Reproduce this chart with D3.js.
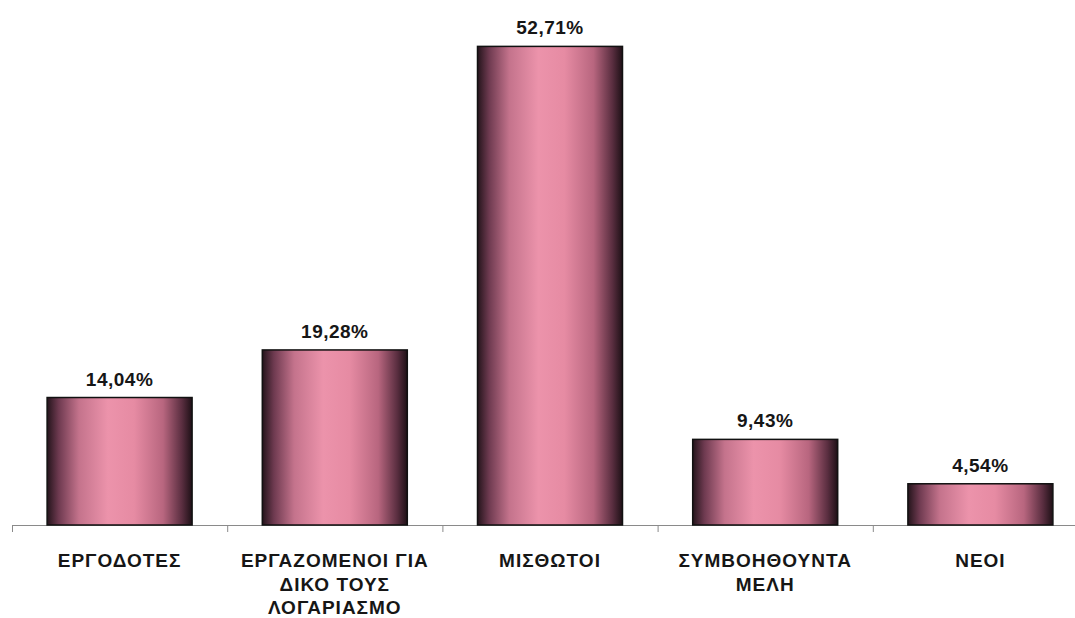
<!DOCTYPE html>
<html>
<head>
<meta charset="utf-8">
<script src="https://cdn.jsdelivr.net/npm/d3@7"></script>
<style>
  body { margin: 0; background: #fff; }
  text { font-family: "Liberation Sans", Arial, sans-serif; font-weight: bold; fill: #161616; }
</style>
</head>
<body>
<div id="chart"></div>
<script>
var categories = [
  ["ΕΡΓΟΔΟΤΕΣ"],
  ["ΕΡΓΑΖΟΜΕΝΟΙ ΓΙΑ", "ΔΙΚΟ ΤΟΥΣ", "ΛΟΓΑΡΙΑΣΜΟ"],
  ["ΜΙΣΘΩΤΟΙ"],
  ["ΣΥΜΒΟΗΘΟΥΝΤΑ", "ΜΕΛΗ"],
  ["ΝΕΟΙ"]
];
var values = [14.04, 19.28, 52.71, 9.43, 4.54];
var valueLabels = ["14,04%", "19,28%", "52,71%", "9,43%", "4,54%"];

var width = 1075, height = 618,
    left = 12, baseY = 525;

var svg = d3.select("#chart").append("svg")
  .attr("width", width)
  .attr("height", height);

var defs = svg.append("defs");
var grad = defs.append("linearGradient")
  .attr("id", "cyl")
  .attr("x1", "0%").attr("x2", "100%")
  .attr("y1", "0%").attr("y2", "0%");
[[0, "#24141b"], [0.08, "#6e3a50"], [0.22, "#c4738c"], [0.42, "#ec93ab"],
 [0.6, "#e68ba3"], [0.8, "#b8667f"], [0.93, "#5a2e40"], [1, "#1e1016"]]
  .forEach(function (s) {
    grad.append("stop").attr("offset", s[0]).attr("stop-color", s[1]);
  });

var x = d3.scaleBand()
  .domain(d3.range(values.length))
  .range([left, left + 5 * 215.2])
  .paddingInner(0)
  .paddingOuter(0);

var y = d3.scaleLinear()
  .domain([0, 55])
  .range([baseY, baseY - 55 * 9.08]);

var barW = 145;

// axis line + ticks
svg.append("line")
  .attr("x1", left).attr("x2", width)
  .attr("y1", baseY + 0.5).attr("y2", baseY + 0.5)
  .attr("stroke", "#8a8a8a").attr("stroke-width", 1);

svg.selectAll("line.tick")
  .data(d3.range(values.length))
  .enter().append("line")
  .attr("class", "tick")
  .attr("x1", function (d) { return x(d) + 0.5; })
  .attr("x2", function (d) { return x(d) + 0.5; })
  .attr("y1", baseY).attr("y2", baseY + 7)
  .attr("stroke", "#8a8a8a");

// bars
svg.selectAll("rect.bar")
  .data(values)
  .enter().append("rect")
  .attr("class", "bar")
  .attr("x", function (d, i) { return x(i) + x.bandwidth() / 2 - barW / 2; })
  .attr("width", barW)
  .attr("y", function (d) { return y(d); })
  .attr("height", function (d) { return baseY - y(d); })
  .attr("fill", "url(#cyl)")
  .attr("stroke", "#111")
  .attr("stroke-width", 1.5);

// value labels
svg.selectAll("text.val")
  .data(values)
  .enter().append("text")
  .attr("class", "val")
  .attr("text-anchor", "middle")
  .attr("x", function (d, i) { return x(i) + x.bandwidth() / 2; })
  .attr("y", function (d) { return y(d) - 12; })
  .style("font-size", "19px")
  .style("letter-spacing", "0.5px")
  .text(function (d, i) { return valueLabels[i]; });

// category labels
var cat = svg.selectAll("text.cat")
  .data(categories)
  .enter().append("text")
  .attr("class", "cat")
  .attr("text-anchor", "middle")
  .attr("x", function (d, i) { return x(i) + x.bandwidth() / 2; })
  .attr("y", 567)
  .style("font-size", "19px")
  .style("letter-spacing", "1px");

cat.selectAll("tspan")
  .data(function (d) { return d; })
  .enter().append("tspan")
  .attr("x", function () { return d3.select(this.parentNode).attr("x"); })
  .attr("dy", function (d, j) { return j === 0 ? 0 : 23.5; })
  .text(function (d) { return d; });
</script>
</body>
</html>
